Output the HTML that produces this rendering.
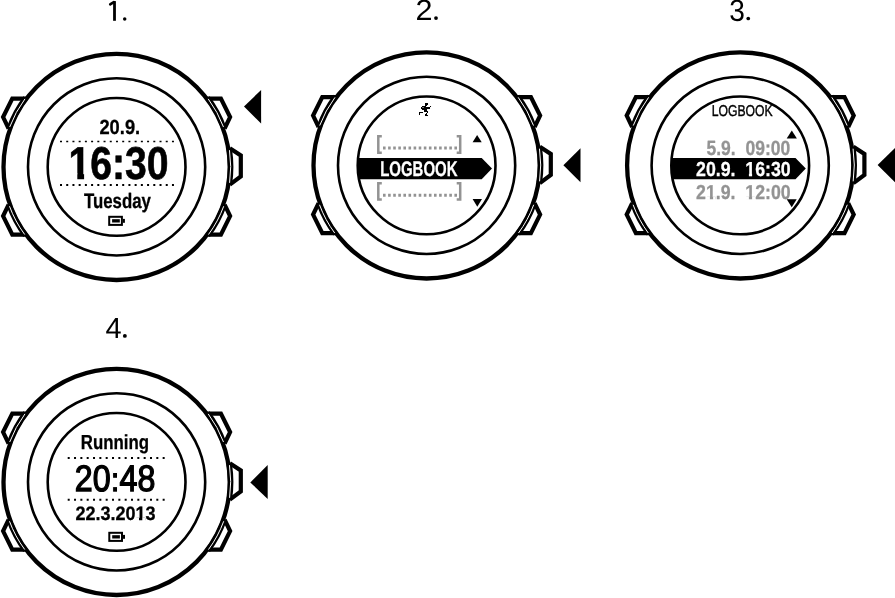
<!DOCTYPE html>
<html><head><meta charset="utf-8"><style>
html,body{margin:0;padding:0;background:#fff;width:895px;height:598px;overflow:hidden}
svg{display:block;will-change:transform}
text{font-family:"Liberation Sans", sans-serif}
</style></head><body>
<svg width="895" height="598" viewBox="0 0 895 598" text-rendering="geometricPrecision">
<defs><g id="w"><circle cx="116.6" cy="166.9" r="113.1" fill="none" stroke="#000" stroke-width="4.3"/>
<circle cx="116.6" cy="166.9" r="88.6" fill="none" stroke="#000" stroke-width="2.6"/>
<circle cx="116.6" cy="166.9" r="68.9" fill="none" stroke="#000" stroke-width="2.6"/>
<path d="M27.00,98.60 L12.30,98.60 L3.10,117.10 L8.60,128.50" fill="none" stroke="#000" stroke-width="4.2" stroke-linejoin="miter"/>
<path d="M206.20,98.60 L220.90,98.60 L230.10,117.10 L224.60,128.50" fill="none" stroke="#000" stroke-width="4.2" stroke-linejoin="miter"/>
<path d="M27.00,234.60 L12.30,234.60 L3.10,216.10 L8.60,204.70" fill="none" stroke="#000" stroke-width="4.2" stroke-linejoin="miter"/>
<path d="M206.20,234.60 L220.90,234.60 L230.10,216.10 L224.60,204.70" fill="none" stroke="#000" stroke-width="4.2" stroke-linejoin="miter"/>
<path d="M229.80,148.20 L240.80,155.50 L240.80,176.50 L229.80,184.60" fill="none" stroke="#000" stroke-width="4.2" stroke-linejoin="miter"/>
<path d="M9.30,128.11 A114.1,114.1 0 0 1 25.66,97.99" fill="none" stroke="#000" stroke-width="5.4"/>
<path d="M9.69,127.04 A114.1,114.1 0 0 1 24.98,98.90" fill="none" stroke="#fff" stroke-width="1.0"/>
<path d="M207.54,97.99 A114.1,114.1 0 0 1 223.90,128.11" fill="none" stroke="#000" stroke-width="5.4"/>
<path d="M208.22,98.90 A114.1,114.1 0 0 1 223.51,127.04" fill="none" stroke="#fff" stroke-width="1.0"/>
<path d="M25.37,235.43 A114.1,114.1 0 0 1 9.11,205.16" fill="none" stroke="#000" stroke-width="5.4"/>
<path d="M24.69,234.51 A114.1,114.1 0 0 1 9.49,206.24" fill="none" stroke="#fff" stroke-width="1.0"/>
<path d="M224.09,205.16 A114.1,114.1 0 0 1 207.83,235.43" fill="none" stroke="#000" stroke-width="5.4"/>
<path d="M223.71,206.24 A114.1,114.1 0 0 1 208.51,234.51" fill="none" stroke="#fff" stroke-width="1.0"/>
<path d="M229.29,149.05 A114.1,114.1 0 0 1 229.42,183.97" fill="none" stroke="#000" stroke-width="5.4"/>
<path d="M229.47,150.18 A114.1,114.1 0 0 1 229.58,182.84" fill="none" stroke="#fff" stroke-width="1.0"/></g><clipPath id="ic"><circle cx="116.6" cy="166.9" r="68.9"/></clipPath></defs>
<use href="#w" x="0" y="0"/>
<use href="#w" x="310" y="-1.5"/>
<use href="#w" x="623.6" y="-1.5"/>
<use href="#w" x="0" y="315"/>
<rect x="113.1" y="1.1" width="2.8" height="19.7" fill="#000"/><path d="M110.2,4.3 L113.8,2.1" stroke="#000" stroke-width="2.6" stroke-linecap="round"/><circle cx="124.7" cy="19" r="1.75" fill="#000"/>
<text x="415.52" y="20.24" font-size="29.17" font-weight="400" fill="#000" textLength="25.51" lengthAdjust="spacingAndGlyphs">2.</text>
<text x="729.29" y="20.55" font-size="30.58" font-weight="400" fill="#000" textLength="23.46" lengthAdjust="spacingAndGlyphs">3.</text>
<text x="105.42" y="337.58" font-size="28.99" font-weight="400" fill="#000" textLength="24.17" lengthAdjust="spacingAndGlyphs">4.</text>
<rect x="434" y="16" width="5" height="5" fill="#fff"/><circle cx="436" cy="18.1" r="1.9"/>
<rect x="746" y="17" width="5" height="5" fill="#fff"/><circle cx="748.25" cy="18.5" r="1.85"/>
<rect x="123" y="334" width="5" height="5" fill="#fff"/><circle cx="124.85" cy="335.9" r="1.95"/>
<path d="M244,106.6 L261.1,89.9 L261.1,123.5 Z" fill="#000"/>
<path d="M563.4,165.3 L580.5,148.2 L580.5,182.3 Z" fill="#000"/>
<path d="M877.6,165.1 L895,148 L895,182.2 Z" fill="#000"/>
<path d="M250.3,482.4 L267.7,465.1 L267.7,499.1 Z" fill="#000"/>
<text x="99.43" y="133.66" font-size="20.48" font-weight="700" fill="#000" textLength="40.73" lengthAdjust="spacingAndGlyphs" stroke="#000" stroke-width="0.3">20.9.</text>
<line x1="60" y1="141.45" x2="174.5" y2="141.45" stroke="#000" stroke-width="1.6" stroke-dasharray="2 4.22"/>
<text x="68.41" y="179.31" font-size="45.94" font-weight="700" fill="#000" textLength="100.25" lengthAdjust="spacingAndGlyphs" stroke="#000" stroke-width="0.6">16:30</text>
<rect x="70" y="173.3" width="7.3" height="7.7" fill="#fff"/><rect x="84.1" y="173.3" width="6.4" height="7.7" fill="#fff"/>
<line x1="60" y1="185.1" x2="174.5" y2="185.1" stroke="#000" stroke-width="2" stroke-dasharray="2 4.22"/>
<text x="83.99" y="207.7" font-size="21.0" font-weight="700" fill="#000" textLength="66.88" lengthAdjust="spacingAndGlyphs" stroke="#000" stroke-width="0.3">Tuesday</text>
<rect x="109.2" y="216.8" width="12.7" height="8.1" fill="none" stroke="#000" stroke-width="2"/><rect x="112.10000000000001" y="219.20000000000002" width="7.7" height="3.3" fill="#000"/><rect x="122.9" y="218.9" width="2" height="3.9" fill="#000"/>
<g fill="#000"><rect x="425" y="103" width="1.02" height="1.02"/><rect x="426" y="103" width="1.02" height="1.02"/><rect x="427" y="103" width="1.02" height="1.02"/><rect x="425" y="104" width="1.02" height="1.02"/><rect x="426" y="104" width="1.02" height="1.02"/><rect x="427" y="104" width="1.02" height="1.02"/><rect x="425" y="105" width="1.02" height="1.02"/><rect x="426" y="105" width="1.02" height="1.02"/><rect x="422" y="106" width="1.02" height="1.02"/><rect x="423" y="106" width="1.02" height="1.02"/><rect x="424" y="106" width="1.02" height="1.02"/><rect x="425" y="106" width="1.02" height="1.02"/><rect x="430" y="106" width="1.02" height="1.02"/><rect x="421" y="107" width="1.02" height="1.02"/><rect x="424" y="107" width="1.02" height="1.02"/><rect x="425" y="107" width="1.02" height="1.02"/><rect x="426" y="107" width="1.02" height="1.02"/><rect x="427" y="107" width="1.02" height="1.02"/><rect x="428" y="107" width="1.02" height="1.02"/><rect x="429" y="107" width="1.02" height="1.02"/><rect x="421" y="108" width="1.02" height="1.02"/><rect x="422" y="108" width="1.02" height="1.02"/><rect x="423" y="108" width="1.02" height="1.02"/><rect x="424" y="108" width="1.02" height="1.02"/><rect x="425" y="108" width="1.02" height="1.02"/><rect x="426" y="108" width="1.02" height="1.02"/><rect x="427" y="108" width="1.02" height="1.02"/><rect x="428" y="108" width="1.02" height="1.02"/><rect x="429" y="108" width="1.02" height="1.02"/><rect x="422" y="109" width="1.02" height="1.02"/><rect x="423" y="109" width="1.02" height="1.02"/><rect x="424" y="109" width="1.02" height="1.02"/><rect x="425" y="109" width="1.02" height="1.02"/><rect x="426" y="109" width="1.02" height="1.02"/><rect x="424" y="110" width="1.02" height="1.02"/><rect x="425" y="110" width="1.02" height="1.02"/><rect x="426" y="110" width="1.02" height="1.02"/><rect x="424" y="111" width="1.02" height="1.02"/><rect x="425" y="111" width="1.02" height="1.02"/><rect x="426" y="111" width="1.02" height="1.02"/><rect x="427" y="111" width="1.02" height="1.02"/><rect x="419" y="112" width="1.02" height="1.02"/><rect x="420" y="112" width="1.02" height="1.02"/><rect x="421" y="112" width="1.02" height="1.02"/><rect x="422" y="112" width="1.02" height="1.02"/><rect x="427" y="112" width="1.02" height="1.02"/><rect x="419" y="113" width="1.02" height="1.02"/><rect x="426" y="113" width="1.02" height="1.02"/><rect x="419" y="114" width="1.02" height="1.02"/><rect x="425" y="114" width="1.02" height="1.02"/><rect x="426" y="114" width="1.02" height="1.02"/><rect x="425" y="115" width="1.02" height="1.02"/><rect x="426" y="115" width="1.02" height="1.02"/><rect x="427" y="115" width="1.02" height="1.02"/><rect x="422" y="107" width="2" height="1" fill="#777"/></g>
<path d="M381.8,136.2 H378.3 V152.7 H381.8" fill="none" stroke="#939393" stroke-width="2.5"/><path d="M456.7,136.2 H460.2 V152.7 H456.7" fill="none" stroke="#939393" stroke-width="2.5"/>
<line x1="383" y1="148.1" x2="457" y2="148.1" stroke="#939393" stroke-width="3" stroke-dasharray="2.6 2.5"/>
<path d="M381.8,183.3 H378.3 V199.60000000000002 H381.8" fill="none" stroke="#939393" stroke-width="2.5"/><path d="M456.7,183.3 H460.2 V199.60000000000002 H456.7" fill="none" stroke="#939393" stroke-width="2.5"/>
<line x1="383" y1="195.3" x2="457" y2="195.3" stroke="#939393" stroke-width="3" stroke-dasharray="2.6 2.5"/>
<path d="M472.6,142.3 L477.15,135.1 L481.7,142.3 Z" fill="#000"/>
<path d="M472.6,199 L477.3,206.8 L482,199 Z" fill="#000"/>
<g clip-path="url(#ic2)"><path d="M350,158 H481.7 L492,168.6 L481.7,179.2 H350 Z" fill="#000"/></g>
<defs><clipPath id="ic2"><circle cx="426.6" cy="165.4" r="68.9"/></clipPath></defs>
<text x="380.21" y="175.83" font-size="21.07" font-weight="700" fill="#fff" textLength="77.24" lengthAdjust="spacingAndGlyphs" stroke="#fff" stroke-width="0.3">LOGBOOK</text>
<text x="711.73" y="116.21" font-size="15.66" font-weight="400" fill="#000" textLength="61.02" lengthAdjust="spacingAndGlyphs" stroke="#000" stroke-width="0.4">LOGBOOK</text>
<path d="M786.7,138.5 L791.8,130.5 L796.9,138.5 Z" fill="#000"/>
<g clip-path="url(#ic3)"><path d="M660,158 H795.5 L805.8,168.6 L795.5,179.2 H660 Z" fill="#000"/></g>
<defs><clipPath id="ic3"><circle cx="740.2" cy="165.4" r="68.9"/></clipPath></defs>
<text x="706.46" y="155.06" font-size="20.6" font-weight="700" fill="#939393" textLength="83.74" lengthAdjust="spacingAndGlyphs" stroke="#939393" stroke-width="0.3">5.9.&#160;&#160;09:00</text>
<text x="696.11" y="176.09" font-size="20.29" font-weight="700" fill="#fff" textLength="94.57" lengthAdjust="spacingAndGlyphs" stroke="#fff" stroke-width="0.3">20.9.&#160;&#160;16:30</text>
<text x="696.11" y="198.54" font-size="20.17" font-weight="700" fill="#939393" textLength="94.56" lengthAdjust="spacingAndGlyphs" stroke="#939393" stroke-width="0.3">21.9.&#160;&#160;12:00</text>
<rect x="745.5" y="172.8" width="3.4" height="4.4" fill="#000"/><rect x="752.1" y="172.8" width="3" height="4.4" fill="#000"/>
<rect x="706.4" y="196.5" width="3.5" height="3.4" fill="#fff"/><rect x="713.1" y="196.5" width="2.5" height="3.4" fill="#fff"/><rect x="745.5" y="196.5" width="3.4" height="3.4" fill="#fff"/><rect x="752.1" y="196.5" width="3.1" height="3.4" fill="#fff"/>
<path d="M786.7,199.2 L791.7,207.3 L796.7,199.2 Z" fill="#000"/>
<text x="80.81" y="448.8" font-size="20.3" font-weight="700" fill="#000" textLength="68.19" lengthAdjust="spacingAndGlyphs" stroke="#000" stroke-width="0.3">Running</text>
<line x1="67.7" y1="457.9" x2="165" y2="457.9" stroke="#000" stroke-width="2" stroke-dasharray="2 4.33"/>
<text x="74.72" y="491.0" font-size="36.8" font-weight="400" fill="#000" textLength="80.71" lengthAdjust="spacingAndGlyphs" stroke="#000" stroke-width="1.3">20:48</text>
<rect x="112.3" y="469" width="5.4" height="7.5" fill="#fff"/><rect x="112.3" y="485.5" width="5.4" height="7" fill="#fff"/><rect x="113.1" y="473" width="3.9" height="4.8" fill="#000"/><rect x="113.1" y="487.1" width="3.9" height="4.6" fill="#000"/>
<line x1="67.7" y1="499.8" x2="165" y2="499.8" stroke="#000" stroke-width="2" stroke-dasharray="2 4.33"/>
<text x="75.41" y="520.37" font-size="19.48" font-weight="700" fill="#000" textLength="80.2" lengthAdjust="spacingAndGlyphs" stroke="#000" stroke-width="0.3">22.3.2013</text>
<rect x="135.6" y="517.6" width="3.4" height="3.4" fill="#fff"/><rect x="142.3" y="517.6" width="2.8" height="3.4" fill="#fff"/>
<rect x="109.3" y="532.8" width="12.7" height="8.1" fill="none" stroke="#000" stroke-width="2"/><rect x="112.2" y="535.1999999999999" width="7.7" height="3.3" fill="#000"/><rect x="123.0" y="534.9" width="2" height="3.9" fill="#000"/>
</svg>
</body></html>
